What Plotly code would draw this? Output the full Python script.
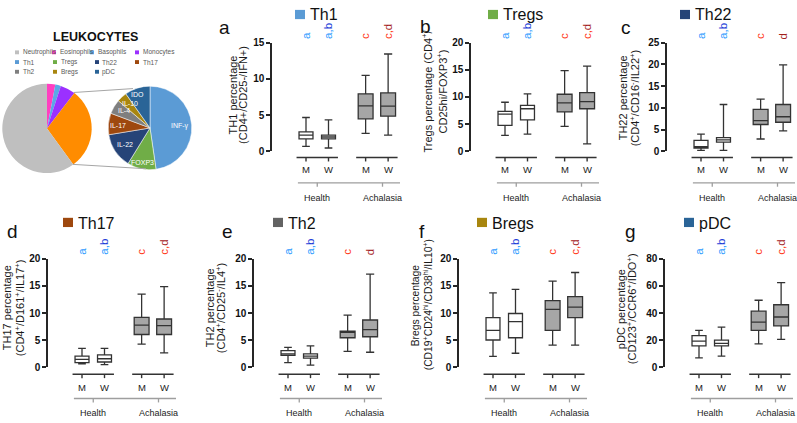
import plotly.graph_objects as go

# ---------------- DATA ----------------
groups = ["Health", "Achalasia"]
sexes = ["M", "W", "M", "W"]

# main pie (clockwise from 12 o'clock)
main_labels = ["Eosinophils", "Basophils", "Monocytes", "Lymphocytes", "Neutrophils"]
main_values = [3, 2, 5.5, 29.5, 60]
main_colors = ["#FF3FC0", "#5BA8E6", "#9B30FF", "#FF8C00", "#BFBFBF"]

# exploded pie (clockwise from 12 o'clock)
sub_labels = ["Th1", "Tregs", "Th22", "Th17", "Th2", "Bregs", "pDC"]
sub_markers = ["INF-γ", "FOXP3", "IL-22", "IL-17", "IL-4", "IL-10", "IDO"]
sub_values = [47.7, 11.1, 13.6, 8.3, 5.6, 3.9, 9.8]
sub_colors = ["#5B9BD5", "#70AD47", "#264478", "#9E480E", "#7F7F7F", "#A8860F", "#2A6497"]

# box statistics, order: Health-M, Health-W, Achalasia-M, Achalasia-W
th1_low = [0.67, 0.45, 2.46, 2.24]
th1_q1 = [1.70, 1.70, 4.48, 4.84]
th1_med = [2.24, 1.97, 6.27, 6.22]
th1_q3 = [2.69, 2.24, 7.93, 8.06]
th1_high = [4.66, 4.34, 10.48, 13.43]

tregs_low = [2.91, 3.15, 4.57, 1.37]
tregs_q1 = [4.75, 5.76, 7.24, 7.83]
tregs_med = [6.82, 7.83, 8.90, 9.14]
tregs_q3 = [7.36, 8.43, 10.50, 10.80]
tregs_high = [9.02, 10.56, 14.84, 15.67]

th22_low = [0.22, 0.22, 2.82, 4.67]
th22_q1 = [0.74, 2.08, 6.16, 6.68]
th22_med = [1.04, 2.60, 7.05, 7.94]
th22_q3 = [2.52, 3.12, 9.64, 10.76]
th22_high = [3.93, 10.76, 12.00, 19.90]

th17_low = [0.65, 0.53, 4.27, 2.67]
th17_q1 = [0.89, 1.00, 6.05, 6.05]
th17_med = [1.48, 1.60, 7.77, 7.70]
th17_q3 = [2.08, 2.31, 9.20, 8.90]
th17_high = [3.50, 3.50, 13.47, 14.84]

th2_low = [0.89, 0.42, 2.97, 2.79]
th2_q1 = [2.20, 1.72, 5.46, 5.64]
th2_med = [2.49, 2.08, 6.47, 6.94]
th2_q3 = [3.09, 2.49, 6.65, 8.72]
th2_high = [3.68, 3.98, 9.61, 17.15]

bregs_low = [2.02, 2.61, 4.09, 4.09]
bregs_q1 = [5.04, 5.46, 6.82, 9.14]
bregs_med = [6.82, 8.43, 10.68, 11.10]
bregs_q3 = [9.14, 9.91, 12.28, 13.00]
bregs_high = [13.70, 14.36, 15.85, 17.45]

pdc_low = [7.1, 8.3, 17.3, 20.6]
pdc_q1 = [15.8, 15.8, 27.2, 30.5]
pdc_med = [19.4, 17.7, 33.3, 37.1]
pdc_q3 = [23.4, 20.1, 41.4, 46.1]
pdc_high = [27.2, 29.6, 49.4, 62.4]

letters_abcd = ["a", "a,b", "c", "c,d"]
letters_abd = ["a", "a,b", "c", "d"]

# ---------------- LAYOUT HELPERS ----------------
W, H = 797, 423
def fx(p):
    return p / W
def fy(p):
    return 1 - p / H

positions = [0, 1, 2.65, 3.65]
UNIT = 22.5      # px per position unit
OFF = 34         # px from y axis to first box
FONT = "Liberation Sans, Arial, sans-serif"
LB, DB, RD, DR = "#2E9BFF", "#1F3FD8", "#FF3B1A", "#A3201B"

rows = [dict(zero=149.5, top=37.7, under=156, lab=168.5, gray=182, grp=198, title=9, sq=4, letter=36.5),
        dict(zero=372.0, top=260.0, under=379, lab=393, gray=404, grp=419, title=224, sq=218, letter=258.5)]

panels = [
    dict(tag="a", name="Th1", color=sub_colors[0], ax=272, row=0, ymax=15, dt=5,
         stats=(th1_low, th1_q1, th1_med, th1_q3, th1_high), lets=letters_abcd,
         yt=["TH1 percentage", "(CD4+/CD25-/IFN+)"], ytx=(233, 243.5), yty=92, yfs=11,
         tagxy=(224, 22), sqx=295),
    dict(tag="b", name="Tregs", color=sub_colors[1], ax=471, row=0, ymax=20, dt=5,
         stats=(tregs_low, tregs_q1, tregs_med, tregs_q3, tregs_high), lets=letters_abcd,
         yt=["Tregs percentage (CD4<sup>+</sup>/", "CD25hi/FOXP3<sup>+</sup>)"], ytx=(427, 442), yty=88, yfs=11,
         tagxy=(425, 21), sqx=488),
    dict(tag="c", name="Th22", color=sub_colors[2], ax=667, row=0, ymax=25, dt=5,
         stats=(th22_low, th22_q1, th22_med, th22_q3, th22_high), lets=letters_abd,
         yt=["TH22 percentage", "(CD4<sup>+</sup>/CD16<sup>-</sup>/IL22<sup>+</sup>)"], ytx=(623, 635), yty=95, yfs=11,
         tagxy=(626, 22), sqx=680),
    dict(tag="d", name="Th17", color=sub_colors[3], ax=48, row=1, ymax=20, dt=5,
         stats=(th17_low, th17_q1, th17_med, th17_q3, th17_high), lets=letters_abcd,
         yt=["TH17 percentage", "(CD4<sup>+</sup>/D161<sup>+</sup>/IL17<sup>+</sup>)"], ytx=(7, 20), yty=311, yfs=11,
         tagxy=(12, 232), sqx=63),
    dict(tag="e", name="Th2", color="#636363", ax=254, row=1, ymax=20, dt=5,
         stats=(th2_low, th2_q1, th2_med, th2_q3, th2_high), lets=letters_abd,
         yt=["TH2 percentage", "(CD4<sup>+</sup>/CD25<sup>-</sup>/IL4<sup>+</sup>)"], ytx=(210, 221), yty=311, yfs=11,
         tagxy=(227, 232), sqx=273),
    dict(tag="f", name="Bregs", color=sub_colors[5], ax=459, row=1, ymax=20, dt=5,
         stats=(bregs_low, bregs_q1, bregs_med, bregs_q3, bregs_high), lets=letters_abcd,
         yt=["Bregs percentage", "(CD19<sup>+</sup>CD24<sup>hi</sup>/CD38<sup>hi</sup>/IL10<sup>+</sup>)"],
         ytx=(415, 427), yty=308, yfs=10.3, tagxy=(422, 232), sqx=477),
    dict(tag="g", name="pDC", color=sub_colors[6], ax=665, row=1, ymax=80, dt=20,
         stats=(pdc_low, pdc_q1, pdc_med, pdc_q3, pdc_high), lets=letters_abcd,
         yt=["pDC percentage", "(CD123<sup>+</sup>/CCR6<sup>+</sup>/IDO<sup>+</sup>)"], ytx=(621, 632), yty=312, yfs=11,
         tagxy=(630, 232), sqx=684),
]

def letter_html(s):
    if s == "a":
        return f"<span style='color:{LB}'>a</span>"
    if s == "a,b":
        return f"<span style='color:{LB}'>a,</span><span style='color:{DB}'>b</span>"
    if s == "c":
        return f"<span style='color:{RD}'>c</span>"
    if s == "c,d":
        return f"<span style='color:{RD}'>c,</span><span style='color:{DR}'>d</span>"
    return f"<span style='color:{DR}'>{s}</span>"

fig = go.Figure()
annotations = []
shapes = []
layout = {}

for i, p in enumerate(panels):
    n = i + 1
    xa = "x" if n == 1 else f"x{n}"
    ya = "y" if n == 1 else f"y{n}"
    r = rows[p["row"]]
    low, q1, med, q3, high = p["stats"]
    # boxes
    for gi, (sl, fill, wdt) in enumerate([(slice(0, 2), "white", 0.62), (slice(2, 4), "#A6A6A6", 0.66)]):
        fig.add_trace(go.Box(
            x=positions[sl], lowerfence=low[sl], q1=q1[sl], median=med[sl], q3=q3[sl], upperfence=high[sl],
            xaxis=xa, yaxis=ya, fillcolor=fill, line=dict(color="#333333", width=1.3),
            width=wdt, whiskerwidth=0.55, boxpoints=False, hoverinfo="skip", showlegend=False))
    x0 = p["ax"]
    tv = list(range(0, p["ymax"] + 1, p["dt"]))
    layout["xaxis" if n == 1 else f"xaxis{n}"] = dict(
        domain=[fx(x0), fx(x0 + 128)], range=[-OFF / UNIT, (128 - OFF) / UNIT],
        visible=False, anchor=ya)
    layout["yaxis" if n == 1 else f"yaxis{n}"] = dict(
        domain=[fy(r["zero"]), fy(r["top"])], range=[0, p["ymax"]], anchor=xa,
        showline=True, linecolor="#262626", linewidth=1.5, ticks="outside", ticklen=4,
        tickwidth=1.5, tickcolor="#262626", tickvals=tv, ticktext=[f"<b>{v}</b>" for v in tv],
        tickfont=dict(family=FONT, size=10, color="#111111"),
        showgrid=False, zeroline=False)
    # group underlines with ticks and M/W labels
    for sl in (slice(0, 2), slice(2, 4)):
        pp = positions[sl]
        shapes.append(dict(type="line", xref=xa, yref="paper", x0=pp[0] - 0.42, x1=pp[-1] + 0.42,
                           y0=fy(r["under"]), y1=fy(r["under"]), line=dict(color="#333333", width=1.6)))
        for k, xp in enumerate(pp):
            shapes.append(dict(type="line", xref=xa, yref="paper", x0=xp, x1=xp,
                               y0=fy(r["under"]), y1=fy(r["under"] + 4), line=dict(color="#333333", width=1.4)))
    for k, xp in enumerate(positions):
        annotations.append(dict(x=xp, y=fy(r["lab"]), xref=xa, yref="paper", text=sexes[k], showarrow=False,
                                font=dict(family=FONT, size=9.5, color="#222222"), xanchor="center", yanchor="middle"))
        annotations.append(dict(x=xp, y=fy(r["letter"]), xref=xa, yref="paper", text=letter_html(p["lets"][k]),
                                showarrow=False, textangle=-90, font=dict(family=FONT, size=11.5, color=LB),
                                xanchor="center", yanchor="bottom"))
    # grey group axis
    shapes.append(dict(type="line", xref=xa, yref="paper", x0=positions[0] - 0.36, x1=positions[3] + 0.7,
                       y0=fy(r["gray"]), y1=fy(r["gray"]), line=dict(color="#9E9E9E", width=1.4)))
    gx = [(positions[0] + positions[1]) / 2, (positions[2] + positions[3]) / 2 + 0.25]
    for k, g in enumerate(groups):
        shapes.append(dict(type="line", xref=xa, yref="paper", x0=gx[k], x1=gx[k],
                           y0=fy(r["gray"]), y1=fy(r["gray"] + 4), line=dict(color="#9E9E9E", width=1.3)))
        annotations.append(dict(x=gx[k], y=fy(r["grp"]), xref=xa, yref="paper", text=g, showarrow=False,
                                font=dict(family=FONT, size=9, color="#222222"), xanchor="center", yanchor="middle"))
    # y-axis title (two lines)
    for k in range(2):
        annotations.append(dict(x=fx(p["ytx"][k]), y=fy(p["yty"]), xref="paper", yref="paper", text=p["yt"][k],
                                showarrow=False, textangle=-90, font=dict(family=FONT, size=p["yfs"], color="#1a1a1a"),
                                xanchor="center", yanchor="middle"))
    # panel tag
    annotations.append(dict(x=fx(p["tagxy"][0]), y=fy(p["tagxy"][1]), xref="paper", yref="paper", text=p["tag"],
                            showarrow=False, font=dict(family=FONT, size=19, color="#111111"),
                            xanchor="center", yanchor="middle"))
    # panel title with colored square
    shapes.append(dict(type="rect", xref="paper", yref="paper", x0=fx(p["sqx"]), x1=fx(p["sqx"] + 10),
                       y0=fy(r["sq"] + 9.5), y1=fy(r["sq"]), fillcolor=p["color"], line=dict(width=0)))
    annotations.append(dict(x=fx(p["sqx"] + 12.5), y=fy(r["title"]), xref="paper", yref="paper", text=p["name"],
                            showarrow=False, font=dict(family=FONT, size=16, color="#111111"),
                            xanchor="left", yanchor="middle"))

# ---------------- PIES ----------------
fig.add_trace(go.Pie(values=main_values, labels=main_labels, marker=dict(colors=main_colors, line=dict(width=0)),
                     sort=False, direction="clockwise", rotation=0, textinfo="none", hoverinfo="skip",
                     domain=dict(x=[fx(1), fx(93)], y=[fy(172), fy(80)]), showlegend=False))
fig.add_trace(go.Pie(values=sub_values, labels=sub_labels, marker=dict(colors=sub_colors, line=dict(color="white", width=0.5)),
                     sort=False, direction="clockwise", rotation=0, textinfo="none", hoverinfo="skip",
                     domain=dict(x=[fx(107), fx(193)], y=[fy(168.5), fy(82.5)]), showlegend=False))

# connector lines
shapes.append(dict(type="line", xref="paper", yref="paper", x0=fx(74), y0=fy(89), x1=fx(133), y1=fy(85),
                   line=dict(color="#A6A6A6", width=1)))
shapes.append(dict(type="line", xref="paper", yref="paper", x0=fx(73), y0=fy(163), x1=fx(146), y1=fy(167.5),
                   line=dict(color="#A6A6A6", width=1)))

# labels in exploded pie
sub_label_xy = [(180, 124), (142, 161), (125, 143), (118, 123), (124, 108), (130, 100), (137, 91)]
for k, t in enumerate(sub_markers):
    annotations.append(dict(x=fx(sub_label_xy[k][0]), y=fy(sub_label_xy[k][1]), xref="paper", yref="paper",
                            text=t, showarrow=False, font=dict(family=FONT, size=7, color="white"),
                            xanchor="center", yanchor="middle"))

# pie title
annotations.append(dict(x=fx(95), y=fy(32), xref="paper", yref="paper", text="<b>LEUKOCYTES</b>", showarrow=False,
                        font=dict(family="Liberation Sans Narrow, Liberation Sans, Arial", size=12.5, color="#111111"),
                        xanchor="center", yanchor="middle"))

# legend
leg_names = ["Neutrophils", "Eosinophils", "Basophils", "Monocytes"] + sub_labels
leg_colors = [main_colors[4], main_colors[0], main_colors[1], main_colors[2]] + sub_colors
leg_xy = [(17, 47.7), (54, 47.7), (92, 47.7), (137, 47.7),
          (17, 57.7), (55, 57.7), (97, 57.7), (137, 57.7),
          (17, 67.7), (55, 67.7), (97, 67.7)]
for k, nm in enumerate(leg_names):
    lx, ly = leg_xy[k]
    shapes.append(dict(type="rect", xref="paper", yref="paper", x0=fx(lx - 2), x1=fx(lx + 2),
                       y0=fy(ly + 2), y1=fy(ly - 2), fillcolor=leg_colors[k], line=dict(width=0)))
    annotations.append(dict(x=fx(lx + 3.5), y=fy(ly), xref="paper", yref="paper", text=nm, showarrow=False,
                            font=dict(family=FONT, size=6.5, color="#595959"), xanchor="left", yanchor="middle"))

fig.update_layout(width=W, height=H, margin=dict(l=0, r=0, t=0, b=0), paper_bgcolor="white",
                  plot_bgcolor="white", showlegend=False, boxmode="overlay",
                  annotations=annotations, shapes=shapes, **layout)
fig.write_html("out.html", config={"displayModeBar": False},
               post_script="document.body.style.margin='0';document.body.style.overflow='hidden';")
